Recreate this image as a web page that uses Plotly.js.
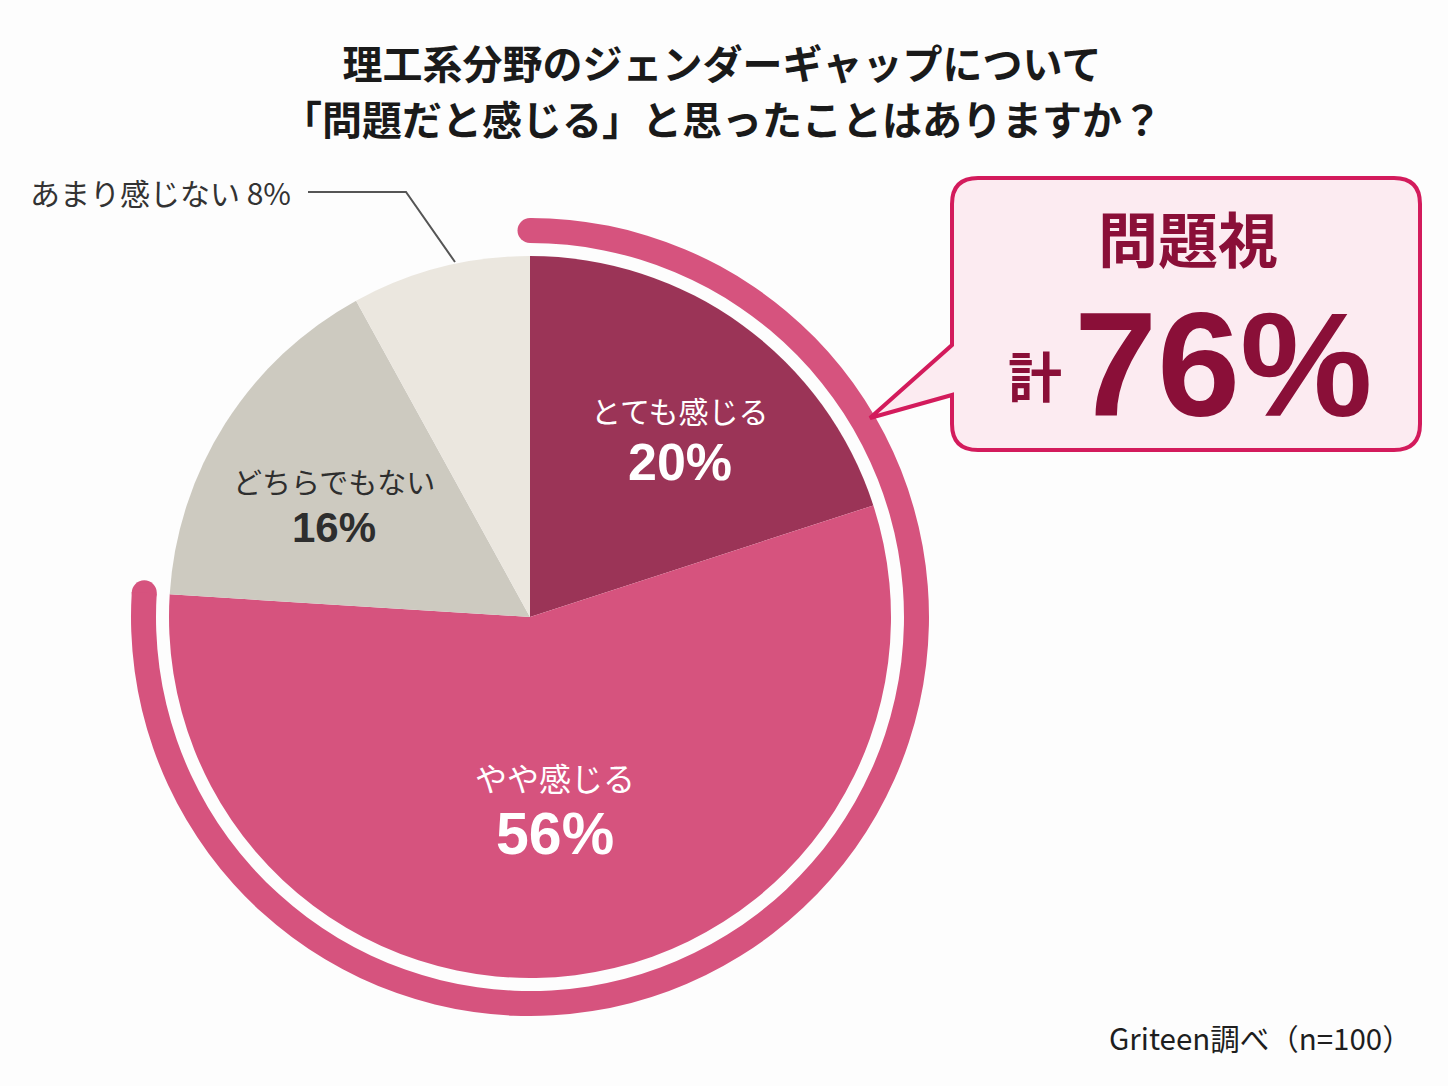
<!DOCTYPE html>
<html>
<head>
<meta charset="utf-8">
<script src="https://cdn.plot.ly/plotly-3.0.1.min.js"></script>
<style>
  html, body { margin: 0; padding: 0; background: #fdfdfd; }
  #chart { width: 1448px; height: 1086px; }
</style>
</head>
<body>
<div id="chart"></div>
<script>
// ---- data ----
const categories = ['とても感じる', 'やや感じる', 'どちらでもない', 'あまり感じない'];
const shares = [20, 56, 16, 8];
const problemCount = 2; // first two categories = 問題視
const titleLines = ['理工系分野のジェンダーギャップについて', '「問題だと感じる」と思ったことはありますか？'];
const calloutHead = '問題視';
const calloutPrefix = '計';
const sourceText = 'Griteen調べ（n=100）';

// ---- styles ----
const W = 1448;
const H = 1086;
const FONT = '"Noto Sans CJK JP", "Noto Sans", sans-serif';
const NUMFONT = '"Liberation Sans", Arial, sans-serif';
const sliceColors = ['#9b3457', '#d6537e', '#cdcac0', '#ebe7df'];
const ringColor = '#d6537e';
const textColors = ['#ffffff', '#ffffff', '#2e2e2e', '#333333'];
const accent = '#d31b5c';
const deep = '#8a0f38';

// pixel -> paper helpers
const X = px => px / W;
const Y = py => 1 - py / H;

const cx = 530;
const cy = 617;
const pieR = 361;
const ringOuter = 399;
const ringInner = 374;

const problemTotal = shares.slice(0, problemCount).reduce((a, b) => a + b, 0);
const allTotal = shares.reduce((a, b) => a + b, 0);

const pie = {
    type: 'pie',
    values: shares,
    labels: categories,
    sort: false,
    direction: 'clockwise',
    rotation: 0,
    textinfo: 'none',
    hoverinfo: 'label+percent',
    marker: { colors: sliceColors, line: { width: 0 } },
    domain: { x: [X(cx - pieR), X(cx + pieR)], y: [Y(cy + pieR), Y(cy - pieR)] },
};

const ring = {
    type: 'pie',
    values: [problemTotal, allTotal - problemTotal],
    labels: ['問題視', 'その他'],
    sort: false,
    direction: 'clockwise',
    rotation: 0,
    hole: ringInner / ringOuter,
    textinfo: 'none',
    hoverinfo: 'skip',
    marker: { colors: [ringColor, 'rgba(0,0,0,0)'], line: { width: 0 } },
    domain: { x: [X(cx - ringOuter), X(cx + ringOuter)], y: [Y(cy + ringOuter), Y(cy - ringOuter)] },
};

// round caps at both ends of the ring
const caps = {
    type: 'scatterpolar',
    mode: 'markers',
    r: [(ringOuter + ringInner) / 2, (ringOuter + ringInner) / 2],
    theta: [0, problemTotal / allTotal * 360],
    marker: { size: ringOuter - ringInner, color: ringColor, line: { width: 0 } },
    hoverinfo: 'skip',
    subplot: 'polar',
};

// slice labels (name + percent)
const labelPos = [
    { x: 680, ny: 410, py: 462, nameSize: 30, pctSize: 52 },
    { x: 555, ny: 777, py: 834, nameSize: 32, pctSize: 59 },
    { x: 334, ny: 481, py: 527, nameSize: 29, pctSize: 42 },
];
const annotations = [];
labelPos.forEach((p, i) => {
    annotations.push({
        xref: 'paper', yref: 'paper', x: X(p.x), y: Y(p.ny),
        xanchor: 'center', yanchor: 'middle', showarrow: false,
        text: categories[i],
        font: { family: FONT, size: p.nameSize, color: textColors[i] },
    });
    annotations.push({
        xref: 'paper', yref: 'paper', x: X(p.x), y: Y(p.py),
        xanchor: 'center', yanchor: 'middle', showarrow: false,
        text: `${shares[i]}%`,
        font: { family: NUMFONT, size: p.pctSize, color: textColors[i], weight: 'bold' },
    });
});

// outside label for the smallest slice
annotations.push({
    xref: 'paper', yref: 'paper', x: X(293), y: Y(192),
    xanchor: 'right', yanchor: 'middle', showarrow: false,
    text: `${categories[3]} ${shares[3]}%`,
    font: { family: FONT, size: 30, color: textColors[3] },
});

// title
annotations.push({
    xref: 'paper', yref: 'paper', x: X(722), y: Y(90),
    xanchor: 'center', yanchor: 'middle', showarrow: false, align: 'center',
    text: titleLines.map(t => `<span style="font-size:40px">${t}</span>`).join('<br>'),
    font: { family: FONT, size: 43, color: '#1a1a1a', weight: 'bold' },
});

// callout text
annotations.push({
    xref: 'paper', yref: 'paper', x: X(1188), y: Y(237),
    xanchor: 'center', yanchor: 'middle', showarrow: false,
    text: calloutHead,
    font: { family: FONT, size: 60, color: deep, weight: 'bold' },
});
annotations.push({
    xref: 'paper', yref: 'paper', x: X(1190), y: Y(364),
    xanchor: 'center', yanchor: 'middle', showarrow: false,
    text: `<span style="baseline-shift:18px">${calloutPrefix} </span>`
        + `<span style="font-family:'Liberation Sans', Arial, sans-serif;font-size:149px">${problemTotal}%</span>`,
    font: { family: FONT, size: 54, color: deep, weight: 'bold' },
});

// source
annotations.push({
    xref: 'paper', yref: 'paper', x: X(1414), y: Y(1037),
    xanchor: 'right', yanchor: 'middle', showarrow: false,
    text: sourceText,
    font: { family: FONT, size: 29.5, color: '#1e1e1e' },
});

// callout bubble path
const bl = 952, br = 1420, bt = 178, bb = 450, rr = 26;
const tailTop = 345, tailBot = 395, tipX = 870, tipY = 418;
const P = (x, y) => `${X(x)},${Y(y)}`;
const bubblePath = [
    `M ${P(bl + rr, bt)}`,
    `L ${P(br - rr, bt)}`,
    `Q ${P(br, bt)} ${P(br, bt + rr)}`,
    `L ${P(br, bb - rr)}`,
    `Q ${P(br, bb)} ${P(br - rr, bb)}`,
    `L ${P(bl + rr, bb)}`,
    `Q ${P(bl, bb)} ${P(bl, bb - rr)}`,
    `L ${P(bl, tailBot)}`,
    `L ${P(tipX, tipY)}`,
    `L ${P(bl, tailTop)}`,
    `L ${P(bl, bt + rr)}`,
    `Q ${P(bl, bt)} ${P(bl + rr, bt)}`,
    'Z',
].join(' ');

const shapes = [
    {
        type: 'path', xref: 'paper', yref: 'paper',
        path: `M ${P(308, 192)} L ${P(406, 192)} L ${P(455, 262)}`,
        line: { color: '#555555', width: 2 },
    },
    {
        type: 'path', xref: 'paper', yref: 'paper',
        path: bubblePath,
        fillcolor: '#fcebf1',
        line: { color: accent, width: 4 },
    },
];

const layout = {
    width: W,
    height: H,
    margin: { l: 0, r: 0, t: 0, b: 0, pad: 0 },
    paper_bgcolor: '#fdfdfd',
    plot_bgcolor: '#fdfdfd',
    showlegend: false,
    polar: {
        domain: { x: [X(cx - ringOuter), X(cx + ringOuter)], y: [Y(cy + ringOuter), Y(cy - ringOuter)] },
        bgcolor: 'rgba(0,0,0,0)',
        radialaxis: { visible: false, range: [0, ringOuter] },
        angularaxis: { visible: false, rotation: 90, direction: 'clockwise' },
    },
    annotations,
    shapes,
};

try {
    Plotly.newPlot('chart', [ring, pie, caps], layout, { displayModeBar: false, staticPlot: true });
} catch (e) {
    console.log(e);
}
</script>
</body>
</html>
